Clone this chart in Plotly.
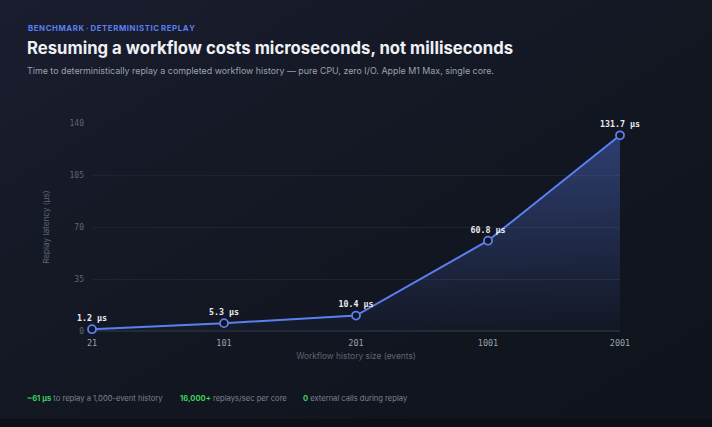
import plotly.graph_objects as go

categories = ["21", "101", "201", "1001", "2001"]
latency_us = [1.2, 5.3, 10.4, 60.8, 131.7]
point_labels = ["1.2 μs", "5.3 μs", "10.4 μs", "60.8 μs", "131.7 μs"]
y_ticks = [0, 35, 70, 105, 140]

W, H = 712, 427
ML, MR, MT, MB = 92, 92, 123, 96
PW = W - ML - MR
PH = H - MT - MB

def px(x):
    return (x - ML) / PW

def py(y):
    return (H - MB - y) / PH

BG = "#11151e"
BLUE = "#5b7ff2"
MONO = "DejaVu Sans Mono"
SANS = "Inter"

def spaced(s):
    return " ".join("\u200a".join(w) for w in s.split(" "))

fig = go.Figure()
fig.add_trace(go.Scatter(
    x=categories, y=latency_us,
    mode="lines+markers+text",
    text=point_labels, textposition="top center",
    textfont=dict(family=MONO, size=8.3, color="#e8eaef", weight="bold"),
    line=dict(color=BLUE, width=2),
    marker=dict(size=8, color=BG, line=dict(color=BLUE, width=1.8)),
    fill="tozeroy",
    fillgradient=dict(type="vertical",
                      colorscale=[[0, "rgba(91,127,242,0.03)"], [1, "rgba(91,127,242,0.38)"]]),
    cliponaxis=False,
    hoverinfo="skip",
    showlegend=False,
))

svg = ("data:image/svg+xml;utf8,<svg xmlns='http://www.w3.org/2000/svg' width='712' height='427'>"
       "<defs><linearGradient id='g' x1='0' y1='0' x2='1' y2='1'>"
       "<stop offset='0' stop-color='%23191d2e'/><stop offset='0.6' stop-color='%23121620'/>"
       "<stop offset='1' stop-color='%230f131b'/></linearGradient></defs>"
       "<rect width='712' height='427' fill='url(%23g)'/>"
       "<rect y='419' width='712' height='8' fill='%230c0f15'/></svg>")

fig.add_layout_image(dict(source=svg, xref="paper", yref="paper",
                          x=px(0), y=py(0), sizex=W / PW, sizey=H / PH,
                          xanchor="left", yanchor="top", sizing="stretch", layer="below"))

ann = [
    dict(text="<b>" + spaced("BENCHMARK · DETERMINISTIC REPLAY") + "</b>",
         x=px(26), y=py(28), size=7.8, color="#5b7ff2", family=SANS),
    dict(text="<b>Resuming a workflow costs microseconds, not milliseconds</b>", x=px(25), y=py(48),
         size=16.7, color="#eef0f4", family=SANS),
    dict(text="Time to deterministically replay a completed workflow history — pure CPU, zero I/O. Apple M1 Max, single core.",
         x=px(25), y=py(70), size=8.9, color="#9ba1ad", family=SANS),
    dict(text="<b><span style='color:#3ecf5c'>~61 μs</span></b> to replay a 1,000-event history",
         x=px(25), y=py(398), size=7.6, color="#7d8390", family=SANS),
    dict(text="<b><span style='color:#3ecf5c'>16,000+</span></b> replays/sec per core",
         x=px(178), y=py(398), size=7.6, color="#7d8390", family=SANS),
    dict(text="<b><span style='color:#3ecf5c'>0</span></b> external calls during replay",
         x=px(301), y=py(398), size=7.6, color="#7d8390", family=SANS),
]
for a in ann:
    fig.add_annotation(text=a["text"], x=a["x"], y=a["y"], xref="paper", yref="paper",
                       xanchor="left", yanchor="middle", showarrow=False,
                       font=dict(family=a["family"], size=a["size"], color=a["color"]))

fig.update_layout(
    width=W, height=H,
    margin=dict(l=ML, r=MR, t=MT, b=MB),
    paper_bgcolor=BG, plot_bgcolor="rgba(0,0,0,0)",
    xaxis=dict(type="category", range=[0, 4], showgrid=False, zeroline=False,
               showline=False, ticks="", ticklabelstandoff=5,
               tickfont=dict(family=MONO, size=8.5, color="#9aa0ab"),
               title=dict(text="Workflow history size (events)", standoff=6,
                          font=dict(family=SANS, size=8.4, color="#5f6573"))),
    yaxis=dict(range=[0, 140], tickvals=y_ticks, showgrid=True, gridcolor="#1e2331",
               gridwidth=1, zeroline=True, zerolinecolor="#232837", showline=False,
               ticks="", ticklabelstandoff=7,
               tickfont=dict(family=MONO, size=8, color="#5f6573"),
               title=dict(text="Replay latency (μs)", standoff=18,
                          font=dict(family=SANS, size=8.2, color="#5f6573"))),
)

fig.write_html("out.html", config={"displayModeBar": False},
               post_script="document.body.style.margin='0';document.body.style.background='#11151e';")
